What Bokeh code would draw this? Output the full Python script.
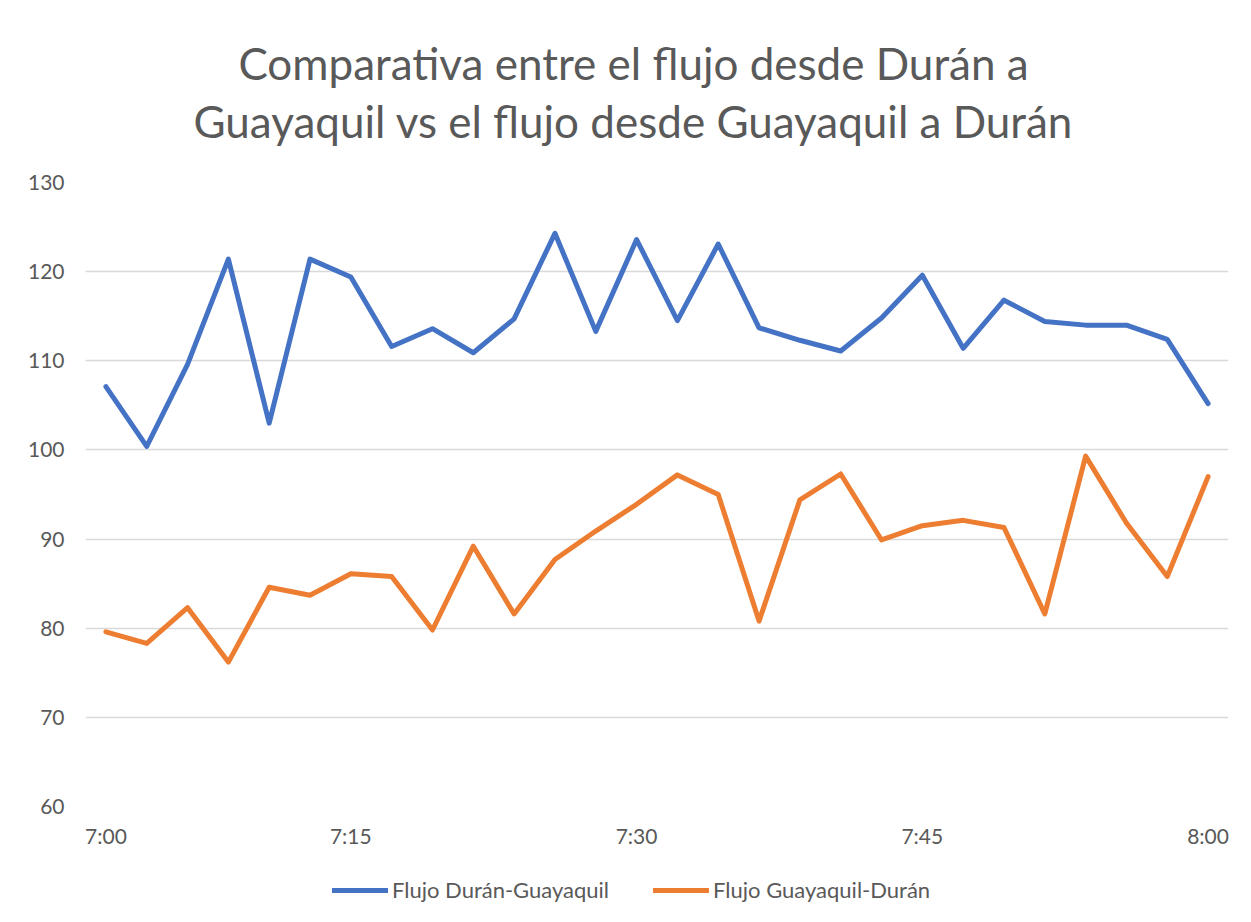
from bokeh.plotting import figure
from bokeh.layouts import column
from bokeh.models import (FixedTicker, Legend, LegendItem, Label, ColumnDataSource, Range1d)
from bokeh.embed import file_html
from bokeh.resources import INLINE

# ---- data ----
tick_positions = [0, 6, 13, 20, 27]
tick_labels = ["7:00", "7:15", "7:30", "7:45", "8:00"]
flujo_duran_guayaquil = [107.1, 100.4, 109.6, 121.4, 103.0, 121.4, 119.4, 111.6, 113.6, 110.9,
                         114.7, 124.3, 113.3, 123.6, 114.5, 123.1, 113.7, 112.3, 111.1, 114.8,
                         119.6, 111.4, 116.8, 114.4, 114.0, 114.0, 112.4, 105.2]
flujo_guayaquil_duran = [79.6, 78.3, 82.3, 76.2, 84.6, 83.7, 86.1, 85.8, 79.8, 89.2,
                         81.6, 87.7, 90.9, 93.9, 97.2, 95.0, 80.8, 94.4, 97.3, 89.9,
                         91.5, 92.1, 91.3, 81.6, 99.3, 91.8, 85.8, 97.0]
series_names = ["Flujo Durán-Guayaquil", "Flujo Guayaquil-Durán"]
series_colors = ["#4472C4", "#ED7D31"]
title_lines = ["Comparativa entre el flujo desde Durán a",
               "Guayaquil vs el flujo desde Guayaquil a Durán"]

FONT = "Lato"
TXT = "#595959"
W = 1243


def bare(height):
    f = figure(width=W, height=height, output_backend="svg", toolbar_location=None,
               x_range=Range1d(0, 1), y_range=Range1d(0, 1), min_border=0,
               x_axis_location=None, y_axis_location=None)
    f.outline_line_color = None
    f.xgrid.visible = False
    f.ygrid.visible = False
    f.border_fill_color = "white"
    return f


# ---- title block ----
pt = bare(162)
for txt, yy in zip(title_lines, [100, 42]):
    pt.add_layout(Label(x=548, y=yy, x_units="screen", y_units="screen", text=txt,
                        text_align="center", text_baseline="alphabetic",
                        text_font=FONT, text_font_size="44px", text_color=TXT))

# ---- main chart ----
idx = list(range(len(flujo_duran_guayaquil)))
src = ColumnDataSource(dict(x=idx, a=flujo_duran_guayaquil, b=flujo_guayaquil_duran))

p = figure(frame_width=1143, frame_height=624, output_backend="svg", toolbar_location=None,
           x_range=Range1d(-0.5, len(idx) - 0.5), y_range=Range1d(60, 130),
           min_border_left=85, min_border_right=15, min_border_top=20, min_border_bottom=52)
p.outline_line_color = None
p.background_fill_color = "white"
p.border_fill_color = "white"

p.line("x", "a", source=src, line_color=series_colors[0], line_width=5, line_join="round", line_cap="round")
p.line("x", "b", source=src, line_color=series_colors[1], line_width=5, line_join="round", line_cap="round")

p.yaxis.ticker = FixedTicker(ticks=[60, 70, 80, 90, 100, 110, 120, 130])
p.xaxis.ticker = FixedTicker(ticks=tick_positions)
p.xaxis.major_label_overrides = {pos: lab for pos, lab in zip(tick_positions, tick_labels)}
for ax in (p.xaxis[0], p.yaxis[0]):
    ax.axis_line_color = None
    ax.major_tick_line_color = None
    ax.minor_tick_line_color = None
    ax.major_tick_out = 0
    ax.major_tick_in = 0
    ax.major_label_text_font = FONT
    ax.major_label_text_font_size = "21px"
    ax.major_label_text_color = TXT
p.yaxis.major_label_standoff = 21
p.xaxis.major_label_standoff = 16

p.xgrid.grid_line_color = None
p.ygrid.grid_line_color = "#d9d9d9"
p.ygrid.grid_line_width = 1.5

# ---- legend block (series drawn outside this strip's visible range; only the legend shows) ----
pl = bare(58)
lsrc = ColumnDataSource(dict(x=idx, a=flujo_duran_guayaquil, b=flujo_guayaquil_duran))
lr = [pl.line("x", col, source=lsrc, line_color=c, line_width=5, line_cap="round")
      for col, c in zip(["a", "b"], series_colors)]
legend = Legend(items=[LegendItem(label=n, renderers=[r]) for n, r in zip(series_names, lr)],
                orientation="horizontal", location=(247, 13),
                label_text_font=FONT, label_text_font_size="22px", label_text_color=TXT,
                glyph_width=56, glyph_height=20, label_standoff=4, spacing=44,
                border_line_color=None, background_fill_alpha=0, margin=0, padding=6)
pl.add_layout(legend, "center")

layout = column(pt, p, pl, spacing=0)
open("out.html", "w").write(file_html(layout, INLINE))
